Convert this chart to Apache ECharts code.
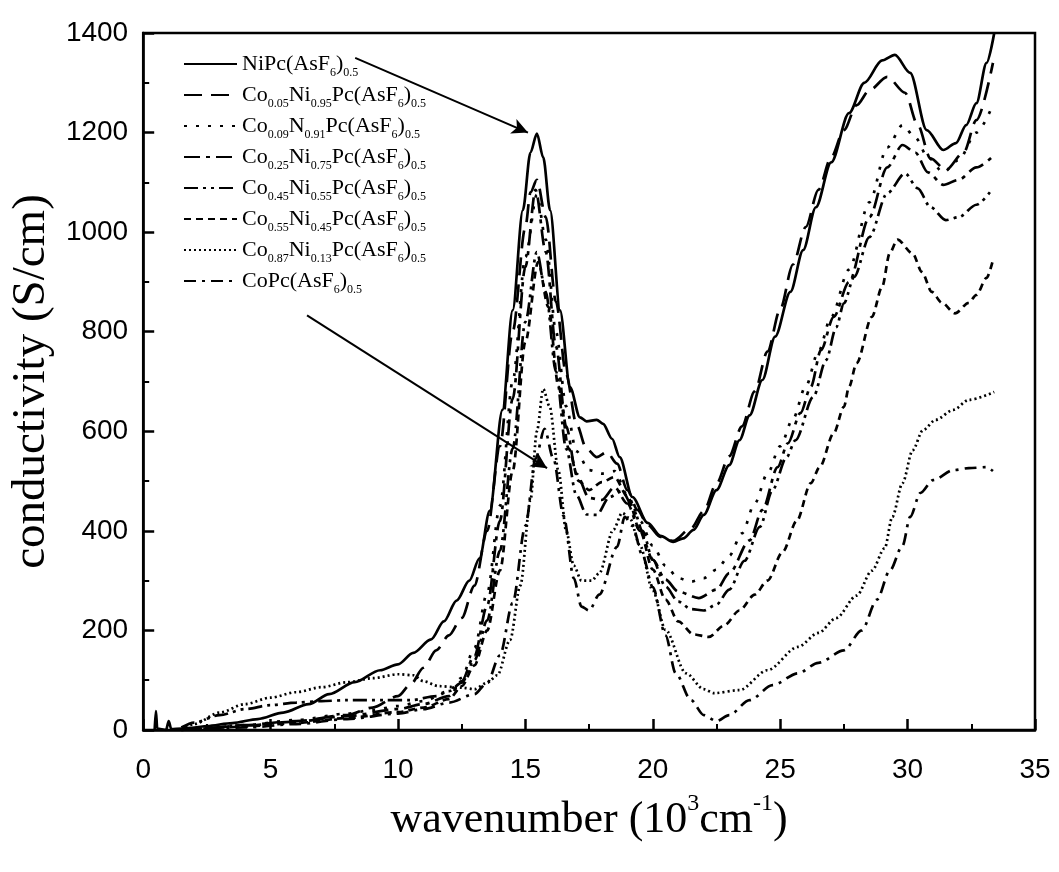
<!DOCTYPE html>
<html><head><meta charset="utf-8">
<script src="https://cdn.jsdelivr.net/npm/echarts@6/dist/echarts.min.js"></script>
<style>html,body{margin:0;padding:0;background:#fff}#c{width:1059px;height:872px}</style>
</head><body><div id="c"></div><script>
// ---- data (wavenumber in 10^3 cm^-1, conductivity in S/cm) ----
const seriesNames = [
  'NiPc(AsF6)0.5',
  'Co0.05Ni0.95Pc(AsF6)0.5',
  'Co0.09N0.91Pc(AsF6)0.5',
  'Co0.25Ni0.75Pc(AsF6)0.5',
  'Co0.45Ni0.55Pc(AsF6)0.5',
  'Co0.55Ni0.45Pc(AsF6)0.5',
  'Co0.87Ni0.13Pc(AsF6)0.5',
  'CoPc(AsF6)0.5'
];
const legendLabels = [
  '{n|NiPc(AsF}{s|6}{n|)}{s|0.5}',
  '{n|Co}{s|0.05}{n|Ni}{s|0.95}{n|Pc(AsF}{s|6}{n|)}{s|0.5}',
  '{n|Co}{s|0.09}{n|N}{s|0.91}{n|Pc(AsF}{s|6}{n|)}{s|0.5}',
  '{n|Co}{s|0.25}{n|Ni}{s|0.75}{n|Pc(AsF}{s|6}{n|)}{s|0.5}',
  '{n|Co}{s|0.45}{n|Ni}{s|0.55}{n|Pc(AsF}{s|6}{n|)}{s|0.5}',
  '{n|Co}{s|0.55}{n|Ni}{s|0.45}{n|Pc(AsF}{s|6}{n|)}{s|0.5}',
  '{n|Co}{s|0.87}{n|Ni}{s|0.13}{n|Pc(AsF}{s|6}{n|)}{s|0.5}',
  '{n|CoPc(AsF}{s|6}{n|)}{s|0.5}'
];
const niPc = [[0.45,0],[0.5,38],[0.55,3],[0.9,0],[1.0,18],[1.1,2],[1.5,3],[2.0,5],[2.5,8],[3.5,14],[4.5,22],[5.5,35],[6.5,52],[7.3,72],[8.3,96],[9.3,120],[10.0,132],[10.6,155],[11.3,182],[11.8,218],[12.3,260],[12.8,300],[13.2,345],[13.6,440],[14.1,643],[14.5,843],[14.9,1044],[15.2,1160],[15.45,1198],[15.7,1150],[15.97,1044],[16.36,843],[16.75,689],[17.14,628],[17.4,620],[17.8,623],[18.05,615],[18.4,585],[18.7,548],[19.2,468],[19.8,416],[20.3,390],[20.8,378],[21.2,385],[21.6,402],[22.0,432],[22.5,482],[23.0,532],[23.4,582],[23.8,632],[24.3,703],[24.8,790],[25.4,880],[25.9,964],[26.4,1050],[27.0,1140],[27.7,1239],[28.3,1300],[29.0,1345],[29.5,1356],[30.1,1320],[30.75,1205],[31.4,1165],[31.9,1179],[32.3,1215],[32.7,1259],[33.1,1340],[33.4,1400]];
const co005 = [[1.5,0],[2.5,4],[4,10],[6,18],[8,30],[9,45],[10,68],[10.5,92],[11,125],[11.5,160],[12,190],[12.5,225],[13,290],[13.5,400],[14,570],[14.5,800],[15,1010],[15.2,1080],[15.45,1105],[15.8,1030],[16.2,860],[16.6,715],[17.0,615],[17.4,565],[17.8,548],[18.2,558],[18.6,535],[19.0,482],[19.4,442],[19.8,412],[20.3,388],[20.8,380],[21.5,405],[22.0,440],[22.5,495],[23.0,550],[23.5,610],[24.0,680],[24.5,760],[25.0,845],[25.5,935],[26.0,1010],[26.5,1085],[27.0,1150],[27.5,1205],[28.0,1255],[28.5,1285],[29.2,1312],[29.9,1280],[30.4,1215],[30.9,1148],[31.5,1125],[32.2,1160],[32.7,1225],[33.35,1340]];
const co009 = [[1.5,0],[2,3],[4,10],[6,20],[8,33],[9,40],[10,48],[11,58],[12,78],[12.5,105],[13,165],[13.5,275],[14,450],[14.5,700],[15,950],[15.45,1075],[15.8,985],[16.2,800],[16.6,650],[17.0,560],[17.5,522],[18.0,515],[18.5,520],[19.0,472],[19.5,420],[20.0,370],[20.5,330],[21.0,305],[21.5,298],[22.0,305],[22.5,322],[23.0,350],[23.5,395],[24.0,455],[24.5,515],[25.0,570],[25.5,625],[26.0,690],[26.5,760],[27.0,830],[27.7,925],[28.5,1060],[29.2,1170],[29.8,1215],[30.3,1190],[30.8,1150],[31.4,1120],[32.0,1145],[32.7,1200],[33.3,1250]];
const co025 = [[1.5,0],[2,2],[4,9],[6,17],[8,28],[10,42],[11,52],[12,68],[12.5,98],[13,150],[13.5,250],[14,420],[14.5,665],[15,930],[15.4,1085],[15.8,960],[16.2,770],[16.6,610],[17.0,515],[17.5,466],[18.0,462],[18.5,488],[19.0,455],[19.5,400],[20.0,342],[20.5,302],[21.0,278],[21.8,265],[22.5,282],[23.0,315],[23.8,381],[24.3,442],[24.9,528],[25.3,576],[25.8,637],[26.2,689],[26.6,763],[27.1,830],[27.7,900],[28.5,1030],[29.2,1130],[29.8,1175],[30.3,1160],[30.8,1120],[31.4,1095],[32.0,1105],[32.7,1130],[33.3,1150]];
const co045 = [[1.5,5],[2,15],[3,30],[4,42],[5,50],[6,55],[7,58],[8,60],[9.5,60],[10.5,60],[11.5,68],[12,78],[12.5,95],[13,140],[13.5,220],[14,360],[14.5,565],[15,820],[15.45,960],[15.8,880],[16.2,720],[16.6,565],[17.0,472],[17.4,433],[17.8,432],[18.3,468],[18.8,480],[19.2,450],[19.6,400],[20.0,342],[20.5,288],[21.0,258],[21.5,243],[22.0,240],[22.5,252],[23.0,282],[23.6,340],[24.2,408],[24.7,482],[25.25,548],[25.6,582],[26.3,669],[26.8,743],[27.2,809],[27.5,857],[27.9,910],[28.5,990],[29.2,1078],[29.9,1118],[30.4,1088],[30.9,1050],[31.5,1024],[32.0,1030],[32.7,1055],[33.3,1085]];
const co055 = [[1.5,0],[2,2],[4,7],[6,14],[8,24],[10,36],[11,45],[12,62],[12.5,88],[13,130],[13.5,200],[14,320],[14.5,520],[15,780],[15.5,940],[15.9,850],[16.3,690],[16.7,565],[17.1,500],[17.5,482],[18.0,498],[18.5,508],[19.0,470],[19.5,400],[20.0,322],[20.5,262],[21.0,218],[21.6,192],[22.2,187],[22.8,210],[23.4,240],[24.0,272],[24.5,300],[25.1,358],[25.65,420],[26.2,496],[26.55,528],[27.1,596],[27.5,649],[27.7,689],[28.0,737],[28.6,830],[29.0,890],[29.3,958],[29.6,985],[30.2,957],[30.56,920],[30.95,880],[31.35,858],[31.86,837],[32.4,858],[32.7,874],[33.1,908],[33.35,944]];
const co087 = [[1.5,0],[2,12],[3,35],[4,52],[5,65],[6,76],[7,86],[8,96],[9,104],[10,112],[10.6,110],[11,98],[11.6,88],[12.5,85],[13,82],[13.5,95],[13.9,110],[14.4,181],[14.8,290],[15.2,462],[15.45,600],[15.7,685],[15.95,650],[16.3,520],[16.6,400],[16.9,330],[17.2,300],[17.6,300],[17.9,315],[18.45,402],[18.8,436],[19.1,425],[19.5,370],[20.0,280],[20.5,201],[21.3,114],[22.0,82],[22.4,74],[23.4,80],[24.5,120],[25.7,167],[26.5,195],[27.2,225],[28.0,270],[28.6,320],[29.1,365],[29.4,428],[29.8,496],[30.2,562],[30.6,602],[31.1,623],[31.8,643],[32.4,663],[33.4,679]];
const coPc = [[1.5,0],[2,2],[4,5],[6,12],[8,22],[10,33],[11,42],[12,55],[13,72],[13.5,95],[14,150],[14.5,255],[15,410],[15.4,545],[15.75,605],[16.1,545],[16.5,430],[16.9,305],[17.2,248],[17.5,240],[17.9,272],[18.6,368],[18.9,428],[19.2,410],[19.6,350],[20.0,287],[20.5,190],[20.9,114],[21.5,60],[22.0,30],[22.5,18],[23.0,30],[23.8,60],[24.7,90],[25.7,114],[26.5,135],[27.5,160],[28.2,200],[28.8,262],[29.3,320],[29.8,370],[30.1,428],[30.5,476],[31.0,502],[31.8,522],[32.4,526],[33.1,528],[33.35,520]];
const allData = [niPc, co005, co009, co025, co045, co055, co087, coPc];
// annotation arrows: [start, end] in data coordinates
const arrowLines = [
  [[8.32, 1350], [15.1, 1200]],
  [[6.43, 833], [15.85, 526]]
];
// ---- styles ----
const dashTypes = ['solid', [18, 9], [3, 9], [16, 6, 4, 6], [14, 5, 3, 5, 3, 5], [7, 5], [2, 3], [12, 6, 3, 6]];

const chart = echarts.init(document.getElementById('c'), null, {renderer: 'canvas'});
const series = allData.map((d, i) => {
  const s = {
    name: seriesNames[i], type: 'line', data: d, symbol: 'none', showSymbol: false,
    smooth: 0.3, smoothMonotone: 'x', animation: false, silent: true,
    lineStyle: {color: '#000', width: 2.7, type: dashTypes[i]},
    itemStyle: {color: '#000'}
  };
  if (i === 0) {
    s.markLine = {
      silent: true, animation: false, symbol: ['none', 'arrow'], symbolSize: [12, 16],
      label: {show: false},
      lineStyle: {color: '#000', width: 2, type: 'solid'},
      data: arrowLines.map(a => [{coord: a[0]}, {coord: a[1]}])
    };
  }
  return s;
});

chart.setOption({
  backgroundColor: '#fff',
  animation: false,
  grid: {left: 143, right: 24, top: 33, bottom: 142, show: true, borderColor: '#000', borderWidth: 2.5, containLabel: false},
  legend: {
    orient: 'vertical', left: 178, top: 48, itemWidth: 53, itemHeight: 14, itemGap: 5,
    data: seriesNames,
    itemStyle: {color: 'rgba(0,0,0,0)', borderWidth: 0, opacity: 0},
    formatter: name => legendLabels[seriesNames.indexOf(name)],
    textStyle: {
      color: '#000',
      rich: {
        n: {fontFamily: 'Liberation Serif', fontSize: 22, color: '#000', lineHeight: 30, verticalAlign: 'middle'},
        s: {fontFamily: 'Liberation Serif', fontSize: 12, color: '#000', lineHeight: 13, verticalAlign: 'bottom'}
      }
    }
  },
  xAxis: {
    type: 'value', min: 0, max: 35, interval: 5,
    name: '{a|wavenumber (10}{u|3}{a|cm}{u|-1}{a|)}',
    nameLocation: 'middle', nameGap: 62,
    nameTextStyle: {
      rich: {
        a: {fontFamily: 'Liberation Serif', fontSize: 44, color: '#000', lineHeight: 56, verticalAlign: 'middle'},
        u: {fontFamily: 'Liberation Serif', fontSize: 24, color: '#000', lineHeight: 26, verticalAlign: 'top'}
      }
    },
    axisLine: {show: true, onZero: false, lineStyle: {color: '#000', width: 2.5}},
    axisTick: {show: true, inside: true, length: 11, lineStyle: {color: '#000', width: 2.5}},
    minorTick: {show: true, splitNumber: 2, length: 6, lineStyle: {color: '#000', width: 2}},
    axisLabel: {color: '#000', fontFamily: 'Liberation Sans', fontSize: 28, margin: 26, formatter: v => String(v)},
    splitLine: {show: false}
  },
  yAxis: {
    type: 'value', min: 0, max: 1400, interval: 200,
    name: 'conductivity (S/cm)', nameLocation: 'middle', nameGap: 58,
    nameTextStyle: {fontFamily: 'Liberation Serif', fontSize: 47, color: '#000'},
    axisLine: {show: true, onZero: false, lineStyle: {color: '#000', width: 2.5}},
    axisTick: {show: true, inside: true, length: 11, lineStyle: {color: '#000', width: 2.5}},
    minorTick: {show: true, splitNumber: 2, length: 6, lineStyle: {color: '#000', width: 2}},
    axisLabel: {color: '#000', fontFamily: 'Liberation Sans', fontSize: 28, margin: 15, formatter: v => String(v)},
    splitLine: {show: false}
  },
  series: series
});
</script></body></html>
